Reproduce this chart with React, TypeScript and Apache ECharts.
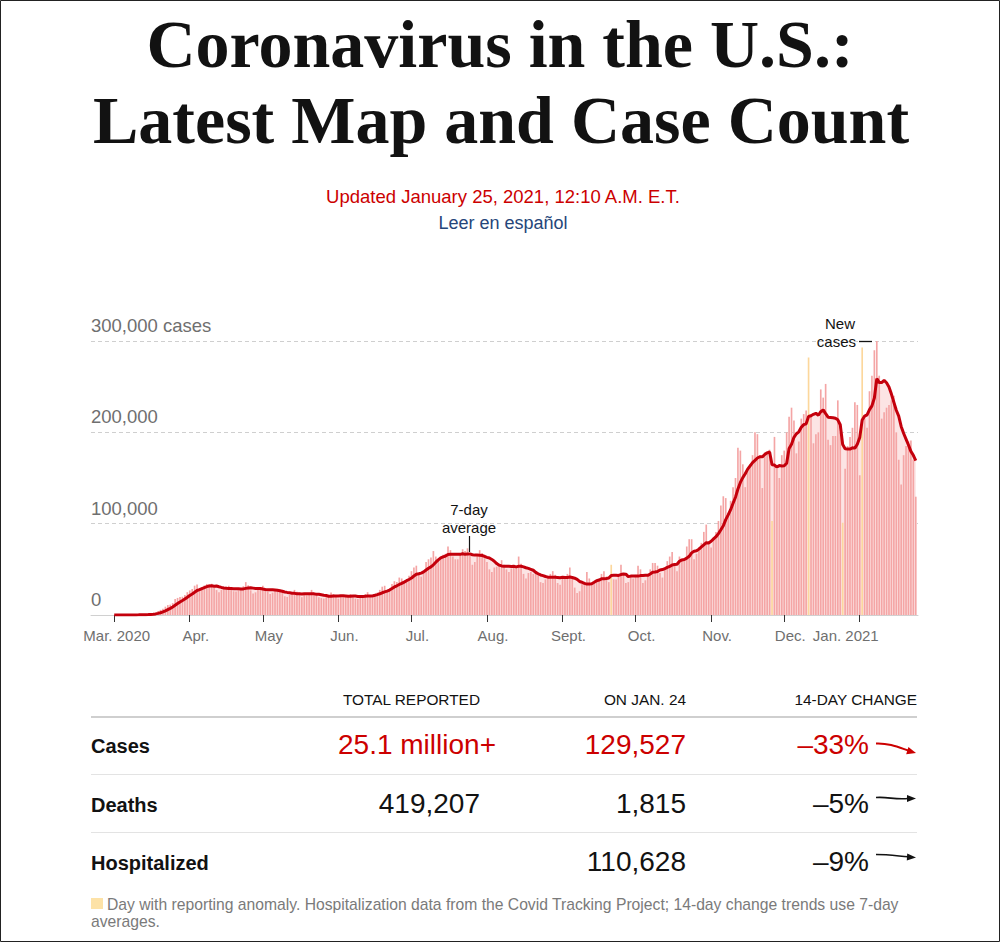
import React, { useEffect, useRef } from "react";
import * as echarts from "echarts";

const SANS = '"Liberation Sans", Arial, sans-serif';
const SERIF = '"Liberation Serif", "Times New Roman", serif';
const RED = "#cc0000";
const INK = "#121212";
const GRAY = "#6f6f6f";

// Month keys and axis labels
const monthKeys = ["2020-03", "2020-04", "2020-05", "2020-06", "2020-07", "2020-08", "2020-09", "2020-10", "2020-11", "2020-12", "2021-01"];
const monthLabels = ["Mar. 2020", "Apr.", "May", "Jun.", "Jul.", "Aug.", "Sept.", "Oct.", "Nov.", "Dec.", "Jan. 2021"];

// Daily new cases (thousands)
const casesMar2020 = [0.005, 0.01, 0.02, 0.03, 0.05, 0.08, 0.1, 0.12, 0.18, 0.29, 0.42, 0.5, 0.6, 0.7, 0.9, 1.3, 1.8, 2.7, 4.3, 5.6, 6.9, 9.1, 10.9, 11.3, 13.0, 17.5, 18.7, 19.6, 20.0, 22.0, 25.0];
const casesApr2020 = [26.9, 28.5, 32.1, 33.4, 26.4, 30.6, 32.3, 34.0, 33.6, 34.2, 30.0, 27.3, 24.9, 27.4, 30.1, 31.2, 32.0, 29.5, 26.0, 25.6, 27.0, 28.5, 31.5, 36.0, 32.5, 27.0, 23.5, 24.8, 28.3, 30.5];
const casesMay2020 = [32.0, 29.5, 25.5, 23.0, 24.5, 26.5, 28.5, 28.0, 25.5, 20.5, 19.8, 22.0, 22.5, 27.5, 25.5, 24.5, 19.5, 22.0, 21.5, 22.5, 27.5, 24.5, 21.5, 19.5, 18.5, 18.0, 19.5, 22.0, 24.5, 23.0, 20.0];
const casesJun2020 = [18.0, 20.0, 19.5, 20.8, 22.0, 23.0, 21.5, 18.0, 17.5, 19.0, 21.5, 23.0, 25.0, 21.0, 19.0, 22.5, 24.5, 27.5, 31.0, 32.0, 27.0, 27.0, 34.0, 37.0, 36.0, 41.0, 40.0, 37.0, 38.0, 43.0];
const casesJul2020 = [48, 52, 54, 44, 42, 47, 58, 61, 63, 70, 64, 60, 62, 66, 67, 75, 71, 64, 61, 61, 66, 72, 70, 73, 65, 55, 58, 66, 71, 68, 66];
const casesAug2020 = [58, 50, 47, 52, 53, 56, 60, 55, 50, 47, 51, 54, 52, 64, 56, 45, 40, 46, 47, 45, 48, 45, 36, 35, 39, 42, 45, 48, 44, 35, 33];
const casesSep2020 = [42, 40, 45, 52, 40, 30, 24, 26, 34, 36, 47, 40, 33, 35, 38, 39, 45, 48, 42, 36, 55, 39, 39, 44, 55, 46, 35, 36, 43, 40];
const casesOct2020 = [44, 54, 50, 35, 38, 43, 50, 57, 57, 54, 46, 41, 51, 59, 64, 69, 57, 48, 64, 61, 62, 75, 83, 83, 61, 67, 74, 79, 91, 99, 81];
const casesNov2020 = [74, 85, 91, 103, 120, 130, 128, 110, 125, 140, 150, 183, 180, 165, 140, 160, 165, 175, 200, 198, 175, 139, 178, 178, 181, 103, 195, 160, 150, 175];
const casesDec2020 = [180, 200, 217, 227, 213, 177, 190, 215, 220, 224, 282, 219, 188, 198, 200, 247, 238, 253, 192, 186, 196, 196, 235, 200, 101, 160, 185, 195, 205, 233, 230];
const casesJan2021 = [153, 293, 215, 205, 245, 262, 290, 302, 262, 215, 222, 227, 230, 235, 240, 200, 170, 143, 175, 185, 190, 191, 170, 129.527];

// Days with reporting anomaly
const anomalyDates = ["2020-09-21", "2020-11-26", "2020-12-11", "2020-12-25", "2021-01-02"];

// Y axis ticks
const yTickValues = [0, 100000, 200000, 300000];
const yTickLabels = ["0", "100,000", "200,000", "300,000 cases"];

// Table
const tableHeaders = ["TOTAL REPORTED", "ON JAN. 24", "14-DAY CHANGE"];
const rowLabels = ["Cases", "Deaths", "Hospitalized"];
const totalReported = ["25.1 million+", "419,207", ""];
const onJan24 = ["129,527", "1,815", "110,628"];
const change14 = ["\u201333%", "\u20135%", "\u20139%"];

const monthlyCases = [casesMar2020, casesApr2020, casesMay2020, casesJun2020, casesJul2020, casesAug2020, casesSep2020, casesOct2020, casesNov2020, casesDec2020, casesJan2021];
const dates: string[] = [];
const dailyCases: number[] = [];
monthlyCases.forEach((arr, m) =>
  arr.forEach((v, d) => {
    dates.push(`${monthKeys[m]}-${String(d + 1).padStart(2, "0")}`);
    dailyCases.push(Math.round(v * 1000));
  })
);
// 7-day trailing average of the daily series
const avg7 = dailyCases.map((_, i) => {
  const s = dailyCases.slice(Math.max(0, i - 6), i + 1);
  return Math.round(s.reduce((a, b) => a + b, 0) / s.length);
});
const isMonthStart = (i: number) => dates[i] !== undefined && dates[i].endsWith("-01");

const txt = (x: number, y: number, text: string, opts: any = {}) => ({
  type: "text",
  x,
  y,
  z: 50,
  silent: true,
  style: {
    text,
    fontFamily: SANS,
    fontSize: 15,
    fill: INK,
    align: "left",
    verticalAlign: "middle",
    ...opts,
  },
});

const line = (x1: number, y1: number, x2: number, y2: number, stroke: string, lineWidth = 1) => ({
  type: "line",
  z: 50,
  silent: true,
  shape: { x1, y1, x2, y2 },
  style: { stroke, lineWidth },
});

function buildGraphics() {
  const g: any[] = [];
  // title
  g.push(txt(500, 44, "Coronavirus in the U.S.:", { fontFamily: SERIF, fontSize: 68, fontWeight: "bold", align: "center" }));
  g.push(txt(501, 120, "Latest Map and Case Count", { fontFamily: SERIF, fontSize: 68, fontWeight: "bold", align: "center" }));
  g.push(txt(503, 196, "Updated January 25, 2021, 12:10 A.M. E.T.", { fontSize: 18.5, fill: RED, align: "center" }));
  g.push(txt(503, 223, "Leer en español", { fontSize: 18, fill: "#25467a", align: "center" }));

  // annotations
  g.push(txt(469, 509, "7-day", { align: "center", fontSize: 15 }));
  g.push(txt(469, 527, "average", { align: "center", fontSize: 15 }));
  g.push(line(469.5, 536, 469.5, 552, INK, 1.2));
  g.push(txt(840, 323, "New", { align: "center", fontSize: 15 }));
  g.push(txt(856, 341, "cases", { align: "right", fontSize: 15 }));
  g.push(line(859, 341.5, 872, 341.5, INK, 1.3));

  // table header
  const colRight = [480, 686, 917];
  tableHeaders.forEach((h, i) => g.push(txt(colRight[i], 699, h, { align: "right", fontSize: 15.4, fill: INK })));
  g.push(line(91, 717, 917, 717, "#cfcfcf", 2));
  g.push(line(91, 774.5, 917, 774.5, "#e3e3e3", 1));
  g.push(line(91, 832.5, 917, 832.5, "#e3e3e3", 1));

  const rowY = [744, 803, 861];
  rowLabels.forEach((r, i) => {
    const col = i === 0 ? RED : INK;
    g.push(txt(91, rowY[i] + 2, r, { fontWeight: "bold", fontSize: 20 }));
    if (totalReported[i]) g.push(txt(i === 0 ? 496 : 480, rowY[i], totalReported[i], { align: "right", fontSize: 28, fill: col }));
    g.push(txt(686, rowY[i], onJan24[i], { align: "right", fontSize: 28, fill: col }));
    g.push(txt(869, rowY[i], change14[i], { align: "right", fontSize: 28, fill: col }));
  });

  // trend arrows
  g.push({ type: "bezierCurve", z: 50, silent: true, shape: { x1: 876, y1: 743.5, cpx1: 889, cpy1: 743, cpx2: 898, cpy2: 747, x2: 908, y2: 750.5 }, style: { stroke: RED, lineWidth: 2, fill: "none" } });
  g.push({ type: "polygon", z: 50, silent: true, shape: { points: [[916, 753], [906.2, 754.3], [908.4, 747.0]] }, style: { fill: RED } });
  g.push({ type: "bezierCurve", z: 50, silent: true, shape: { x1: 876, y1: 797.5, cpx1: 888, cpy1: 796.5, cpx2: 895, cpy2: 800, x2: 908, y2: 798.5 }, style: { stroke: INK, lineWidth: 1.6, fill: "none" } });
  g.push({ type: "polygon", z: 50, silent: true, shape: { points: [[916, 798.5], [907, 795], [907, 802]] }, style: { fill: INK } });
  g.push({ type: "bezierCurve", z: 50, silent: true, shape: { x1: 876, y1: 854.5, cpx1: 888, cpy1: 854.5, cpx2: 898, cpy2: 856, x2: 908, y2: 856.8 }, style: { stroke: INK, lineWidth: 1.6, fill: "none" } });
  g.push({ type: "polygon", z: 50, silent: true, shape: { points: [[916, 857.4], [907.2, 853.6], [906.8, 860.6]] }, style: { fill: INK } });

  // footnote
  g.push({ type: "rect", z: 50, silent: true, shape: { x: 91, y: 898, width: 12, height: 11 }, style: { fill: "#fde2a7" } });
  g.push(txt(107, 904, "Day with reporting anomaly. Hospitalization data from the Covid Tracking Project; 14-day change trends use 7-day", { fontSize: 15.7, fill: "#7a7a7a" }));
  g.push(txt(91, 921, "averages.", { fontSize: 15.7, fill: "#7a7a7a" }));

  // frame
  g.push({ type: "rect", silent: true, z: 100, shape: { x: 0.5, y: 0.5, width: 999, height: 941 }, style: { fill: "none", stroke: "#222", lineWidth: 1 } });
  return g;
}

export default function App() {
  const ref = useRef<HTMLDivElement>(null);
  useEffect(() => {
    if (!ref.current) return;
    const chart = echarts.init(ref.current, undefined, { renderer: "svg" });
    const labelRich = (pad: number[]) => ({ padding: pad, fontSize: 15, color: GRAY, fontFamily: SANS });
    chart.setOption({
      animation: false,
      backgroundColor: "#ffffff",
      grid: [
        { left: 91, top: 341, width: 827, height: 274 },
        { left: 113, top: 341, width: 804, height: 274 },
      ],
      xAxis: [
        {
          gridIndex: 0,
          type: "value",
          min: 0,
          max: 1,
          axisLine: { show: true, lineStyle: { color: "#d0d0d0", width: 1 } },
          axisTick: { show: false },
          axisLabel: { show: false },
          splitLine: { show: false },
        },
        {
          gridIndex: 1,
          type: "category",
          data: dates,
          boundaryGap: true,
          axisLine: { show: false },
          axisTick: {
            show: true,
            alignWithLabel: true,
            interval: (i: number) => isMonthStart(i),
            length: 7,
            lineStyle: { color: "#333", width: 1 },
          },
          axisLabel: {
            interval: (i: number) => isMonthStart(i),
            margin: 13,
            color: GRAY,
            fontSize: 15,
            fontFamily: SANS,
            formatter: (v: string) => {
              const k = monthKeys.indexOf(v.slice(0, 7));
              const cls = k === 0 ? "a" : k === monthKeys.length - 1 ? "c" : "b";
              return `{${cls}|${monthLabels[k]}}`;
            },
            rich: {
              a: labelRich([0, 0, 0, 5]),
              b: labelRich([0, 0, 0, 12]),
              c: labelRich([0, 28, 0, 0]),
            },
          },
          splitLine: { show: false },
        },
      ],
      yAxis: [
        {
          gridIndex: 0,
          type: "value",
          min: 0,
          max: 300000,
          interval: 100000,
          axisLine: { show: false },
          axisTick: { show: false },
          splitLine: { show: true, lineStyle: { color: "#cfcfcf", type: [4, 3], width: 1 } },
          axisLabel: {
            inside: true,
            margin: 0,
            verticalAlign: "bottom",
            padding: [0, 0, 6, 0],
            fontSize: 18.5,
            color: GRAY,
            fontFamily: SANS,
            formatter: (v: number) => {
              const k = yTickValues.indexOf(v);
              return k >= 0 ? yTickLabels[k] : "";
            },
          },
        },
        { gridIndex: 1, type: "value", min: 0, max: 300000, show: false, splitLine: { show: false } },
      ],
      series: [
        {
          type: "line",
          xAxisIndex: 1,
          yAxisIndex: 1,
          data: avg7,
          symbol: "none",
          silent: true,
          lineStyle: { width: 0, opacity: 0 },
          areaStyle: { color: "#fce4e4", opacity: 1 },
          z: 1,
        },
        {
          type: "bar",
          xAxisIndex: 1,
          yAxisIndex: 1,
          data: dailyCases.map((v, i) => (anomalyDates.includes(dates[i]) ? { value: v, itemStyle: { color: "#fcd79c" } } : v)),
          itemStyle: { color: "#f4a5a5" },
          barCategoryGap: "32%",
          silent: true,
          z: 2,
        },
        {
          type: "line",
          xAxisIndex: 1,
          yAxisIndex: 1,
          data: avg7,
          symbol: "none",
          silent: true,
          lineStyle: { color: "#c4000c", width: 3 },
          z: 3,
        },
      ],
      graphic: buildGraphics(),
    });
    return () => chart.dispose();
  }, []);
  return (
    <div style={{ position: "fixed", left: 0, top: 0, width: 1000, height: 942, background: "#fff" }}>
      <div ref={ref} style={{ width: 1000, height: 942 }} />
    </div>
  );
}
